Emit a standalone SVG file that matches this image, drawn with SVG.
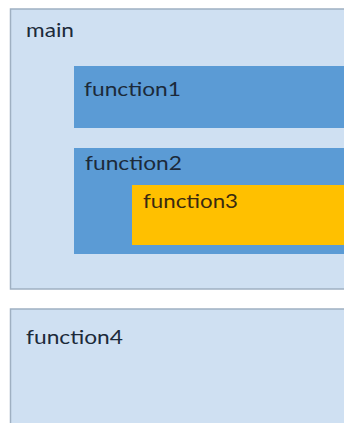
<svg xmlns="http://www.w3.org/2000/svg" width="344" height="423" viewBox="0 0 344 423">
<style>
.outer{fill:#cfe0f2;stroke:#9fb0c2;stroke-width:1.5}
.blue{fill:#5b9bd5}
.gold{fill:#ffc000}
text{font-family:Lato,"Open Sans","Liberation Sans",sans-serif;font-size:20px;fill:#1c2a3a}
.dark{fill:#3a2a10}
</style>
<rect width="344" height="423" fill="#ffffff"/>
<g id="main">
<rect class="outer" x="10.5" y="9" width="345" height="280"/>
<text x="26" y="37" textLength="48" lengthAdjust="spacingAndGlyphs">main</text>
</g>
<g id="function1">
<rect class="blue" x="74" y="66" width="280" height="62"/>
<text x="84" y="96" textLength="97" lengthAdjust="spacingAndGlyphs">function1</text>
</g>
<g id="function2">
<rect class="blue" x="74" y="148" width="280" height="106"/>
<text x="85" y="170" textLength="97" lengthAdjust="spacingAndGlyphs">function2</text>
</g>
<g id="function3">
<rect class="gold" x="132" y="185" width="222" height="60"/>
<text class="dark" x="143" y="208" textLength="95" lengthAdjust="spacingAndGlyphs">function3</text>
</g>
<g id="function4">
<rect class="outer" x="10.5" y="309" width="345" height="130"/>
<text x="26" y="344" textLength="97" lengthAdjust="spacingAndGlyphs">function4</text>
</g>
<g id="connectors"/>
</svg>
